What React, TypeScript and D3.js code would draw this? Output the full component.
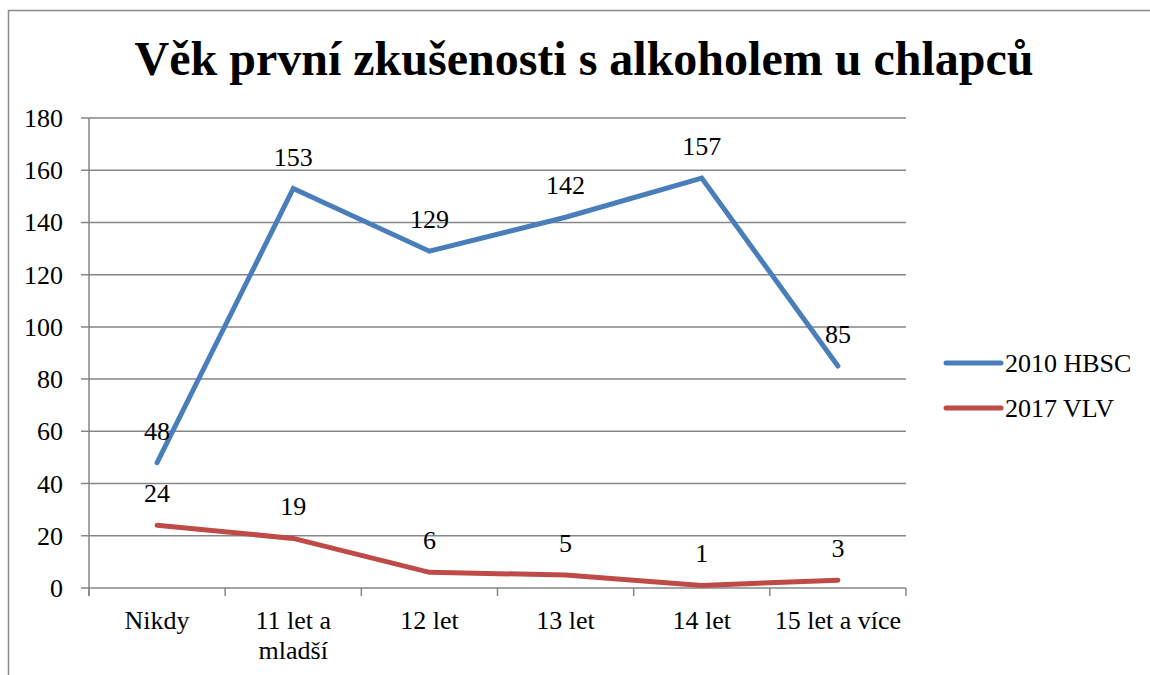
import { scaleBand, scaleLinear, line } from 'd3';

const width = 1150;
const height = 675;
const margin = { top: 118, right: 244, bottom: 87, left: 89 };
const innerWidth = width - margin.left - margin.right;
const innerHeight = height - margin.top - margin.bottom;

const title = 'Věk první zkušenosti s alkoholem u chlapců';
const categories = ['Nikdy', '11 let a mladší', '12 let', '13 let', '14 let', '15 let a více'];
const categoryLines = [['Nikdy'], ['11 let a', 'mladší'], ['12 let'], ['13 let'], ['14 let'], ['15 let a více']];
const seriesNames = ['2010 HBSC', '2017 VLV'];
const hbsc2010 = [48, 153, 129, 142, 157, 85];
const vlv2017 = [24, 19, 6, 5, 1, 3];
const yTicks = [0, 20, 40, 60, 80, 100, 120, 140, 160, 180];
const colors = ['#4a7ebb', '#be4b48'];

const font = "'Liberation Serif', Tinos, 'Times New Roman', Times, 'DejaVu Serif', serif";
const gridColor = '#868686';

export default function App() {
  const xScale = scaleBand<string>().domain(categories).range([0, innerWidth]);
  const yScale = scaleLinear().domain([0, 180]).range([innerHeight, 0]);
  const cx = (c: string) => (xScale(c) ?? 0) + xScale.bandwidth() / 2;

  const series = [hbsc2010, vlv2017];
  const lineGen = line<number>()
    .x((_, i) => cx(categories[i]))
    .y((d) => yScale(d));

  // tick marks sit on the category boundaries
  const boundaries = categories.map((c) => xScale(c) ?? 0).concat([innerWidth]);

  return (
    <svg
      width={width}
      height={height}
      style={{ position: 'absolute', left: 0, top: 0, background: '#fff', fontFamily: font }}
    >
      <rect x={8.5} y={10.5} width={width + 20} height={height + 20} fill="#fff" stroke="#898989" strokeWidth={1.5} />
      <text x={584} y={75} textAnchor="middle" fontSize={48} fontWeight="bold" fill="#000">
        {title}
      </text>
      <g transform={`translate(${margin.left},${margin.top})`}>
        {yTicks.map((t) => (
          <g key={t}>
            <line x1={-8} x2={innerWidth} y1={yScale(t)} y2={yScale(t)} stroke={gridColor} strokeWidth={1.5} />
            <text x={-26} y={yScale(t) + 9} textAnchor="end" fontSize={26} fill="#000">
              {t}
            </text>
          </g>
        ))}
        <line x1={0} x2={0} y1={0} y2={innerHeight + 8} stroke={gridColor} strokeWidth={1.5} />
        {boundaries.map((b, i) => (
          <line key={i} x1={b} x2={b} y1={innerHeight} y2={innerHeight + 8} stroke={gridColor} strokeWidth={1.5} />
        ))}
        {categoryLines.map((ls, i) => (
          <text key={i} x={cx(categories[i])} y={innerHeight + 41} textAnchor="middle" fontSize={26} fill="#000">
            {ls.map((l, j) => (
              <tspan key={j} x={cx(categories[i])} dy={j === 0 ? 0 : 30}>
                {l}
              </tspan>
            ))}
          </text>
        ))}
        {series.map((s, k) => (
          <path key={k} d={lineGen(s) ?? ''} fill="none" stroke={colors[k]} strokeWidth={5} strokeLinecap="round" />
        ))}
        {series.map((s, k) =>
          s.map((v, i) => (
            <text key={`${k}-${i}`} x={cx(categories[i])} y={yScale(v) - 23} textAnchor="middle" fontSize={26} fill="#000">
              {v}
            </text>
          ))
        )}
      </g>
      {seriesNames.map((n, k) => (
        <g key={n} transform={`translate(946,${363 + k * 45})`}>
          <line x1={0} x2={55} y1={0} y2={0} stroke={colors[k]} strokeWidth={5} strokeLinecap="round" />
          <text x={59} y={9} fontSize={26} fill="#000">
            {n}
          </text>
        </g>
      ))}
    </svg>
  );
}
